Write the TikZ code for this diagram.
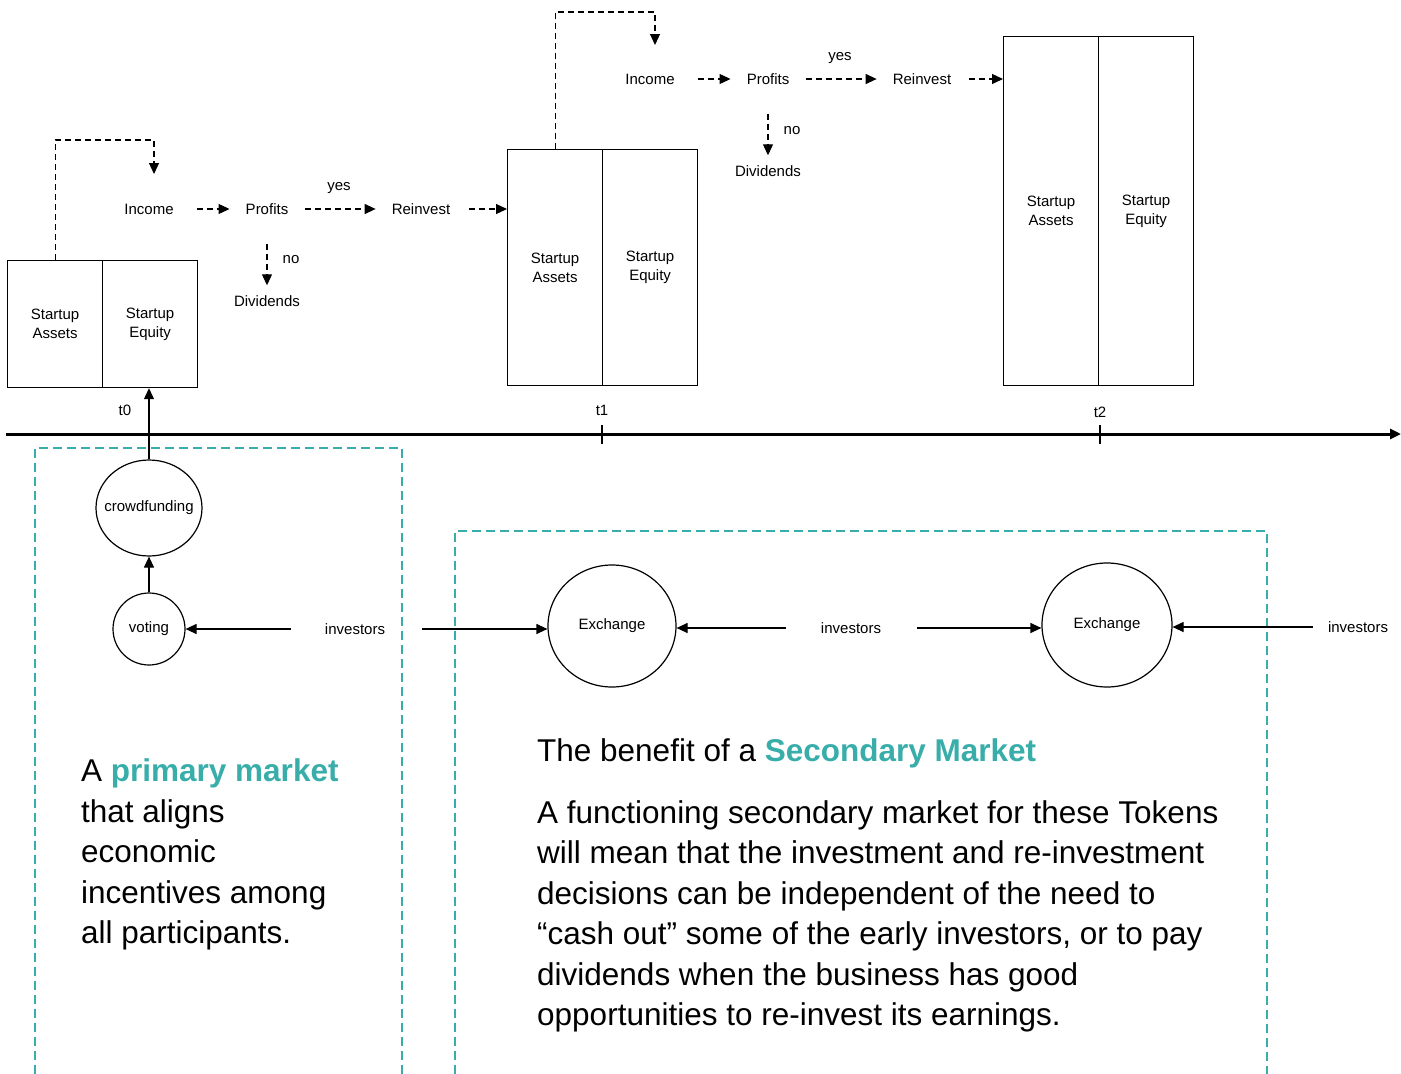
\documentclass[tikz,border=0pt]{standalone}
\usepackage{fontspec}
\setmainfont{Liberation Sans}
\usetikzlibrary{arrows.meta,shapes.geometric}
\definecolor{teal2}{RGB}{56,173,169}
\begin{document}
\begin{tikzpicture}[x=1pt,y=-1pt,
  lbl/.style={font=\fontsize{15}{17.5}\selectfont, inner sep=0pt},
  box/.style={draw, line width=1.2pt, anchor=north west, minimum width=95pt, align=center,
              font=\fontsize{15}{19}\selectfont, inner sep=0pt},
  tip/.style={-{Triangle[length=11pt,width=10pt]}},
  flowarr/.style={tip, line width=1.2pt, dash pattern=on 6pt off 4pt},
  solidarr/.style={tip, line width=1.2pt},
  ring/.style={draw, ellipse, line width=1.2pt, inner sep=0pt, font=\fontsize{15}{17.5}\selectfont},
  tealbox/.style={draw=teal2, line width=2pt, dash pattern=on 9pt off 5pt},
  bigtext/.style={font=\fontsize{31.5}{40.5}\selectfont, align=left, anchor=north west, inner sep=0pt}
]
\useasboundingbox (0,0) rectangle (1401,1074);

% ---- boxes ----
\node[box, minimum height=127pt] (a0) at (7,260) {Startup\\Assets};
\node[box, minimum height=127pt] (e0) at (102,260) {Startup\\Equity};
\node[box, minimum height=236pt] (a1) at (507,149) {Startup\\Assets};
\node[box, minimum height=236pt] (e1) at (602,149) {Startup\\Equity};
\node[box, minimum height=349pt] (a2) at (1003,36) {Startup\\Assets};
\node[box, minimum height=349pt] (e2) at (1098,36) {Startup\\Equity};

% ---- flow 0 ----
\node[lbl] (inc0) at (149,209) {Income};
\node[lbl] (pro0) at (267,209) {Profits};
\node[lbl] (rei0) at (421,209) {Reinvest};
\node[lbl] (div0) at (267,301) {Dividends};
\node[lbl] (yes0) at (339,188) {yes};
\node[lbl] (no0) at (291,260) {no};
\coordinate (top0) at (154,174);
\draw[flowarr] (a0.north) |- (154,140) -- (top0);
\draw[flowarr, shorten <=23pt, shorten >=16pt] (inc0.east) -- (pro0.west);
\draw[flowarr, shorten <=17pt, shorten >=16pt] (pro0.east) -- (rei0.west);
\draw[flowarr, shorten <=19pt] (rei0.east) -- (rei0.east -| a1.west);
\draw[flowarr, shorten <=29pt, shorten >=10pt] (pro0.south) -- (div0.north);

% ---- flow 1 ----
\node[lbl] (inc1) at (650,79) {Income};
\node[lbl] (pro1) at (768,79) {Profits};
\node[lbl] (rei1) at (922,79) {Reinvest};
\node[lbl] (div1) at (768,171) {Dividends};
\node[lbl] (yes1) at (840,58) {yes};
\node[lbl] (no1) at (792,131) {no};
\coordinate (top1) at (655,45);
\draw[flowarr] (a1.north) |- (655,12) -- (top1);
\draw[flowarr, shorten <=23pt, shorten >=16pt] (inc1.east) -- (pro1.west);
\draw[flowarr, shorten <=17pt, shorten >=16pt] (pro1.east) -- (rei1.west);
\draw[flowarr, shorten <=18pt] (rei1.east) -- (rei1.east -| a2.west);
\draw[flowarr, shorten <=29pt, shorten >=10pt] (pro1.south) -- (div1.north);

% ---- timeline ----
\coordinate (tlstart) at (6,434);
\coordinate (tlend) at (1401,434);
\draw[line width=3pt, -{Triangle[length=11pt,width=10pt]}] (tlstart) -- (tlend);
\draw[line width=1.2pt] (602,425) -- (602,444);
\draw[line width=1.2pt] (1100,425) -- (1100,444);
\node[lbl] (t0) at (125,410) {t0};
\node[lbl] (t1) at (602,410) {t1};
\node[lbl] (t2) at (1100,412) {t2};

% ---- teal frames ----
\draw[tealbox] (35,1074) -- (35,448) -- (402,448) -- (402,1074);
\draw[tealbox] (455,1074) -- (455,531) -- (1267,531) -- (1267,1074);

% ---- lower graph ----
\node[ring, minimum width=106pt, minimum height=96pt] (cf) at (149,508) {\makebox[0pt]{crowdfunding}};
\node[ring, minimum width=72pt, minimum height=72pt] (vot) at (149,629) {\makebox[0pt]{voting}};
\node[ring, minimum width=128pt, minimum height=122pt] (ex1) at (612,626) {\makebox[0pt]{Exchange}};
\node[ring, minimum width=130pt, minimum height=124pt] (ex2) at (1107,625) {\makebox[0pt]{Exchange}};
\node[lbl] (inv1) at (355,629) {investors};
\node[lbl] (inv2) at (851,628) {investors};
\node[lbl] (inv3) at (1358,627) {investors};

\draw[solidarr] (cf.north) -- (cf.north |- e0.south);
\draw[solidarr] (vot.north) -- (cf.south);
\draw[solidarr, shorten <=34pt] (inv1.west) -- (vot.east);
\draw[solidarr, shorten <=37pt] (inv1.east) -- (inv1.east -| ex1.west);
\draw[solidarr, shorten <=35pt] (inv2.west) -- (inv2.west -| ex1.east);
\draw[solidarr, shorten <=36pt] (inv2.east) -- (inv2.east -| ex2.west);
\draw[solidarr, shorten <=15pt] (inv3.west) -- (inv3.west -| ex2.east);

% ---- texts ----
\node[bigtext] (ptext) at (81,758.5) {A {\bfseries\color{teal2}primary market}\\that aligns\\economic\\incentives among\\all participants.};
\node[bigtext] (shead) at (537,738.5) {The benefit of a {\bfseries\color{teal2}Secondary Market}};
\node[bigtext] (sbody) at (537,800) {A functioning secondary market for these Tokens\\will mean that the investment and re-investment\\decisions can be independent of the need to\\\char"201C cash out\char"201D{} some of the early investors, or to pay\\dividends when the business has good\\opportunities to re-invest its earnings.};
\end{tikzpicture}
\end{document}
